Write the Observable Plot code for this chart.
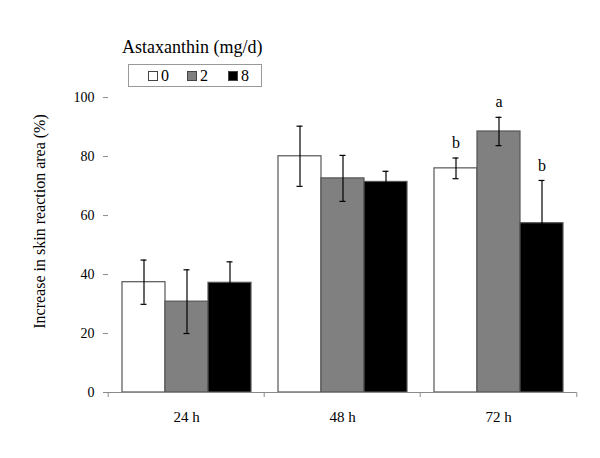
<!DOCTYPE html>
<html>
<head>
<meta charset="utf-8">
<script src="https://cdn.jsdelivr.net/npm/d3@7"></script>
<script src="https://cdn.jsdelivr.net/npm/@observablehq/plot@0.6"></script>
<style>
  html, body { margin: 0; padding: 0; background: #fff; }
  #wrap { position: relative; width: 600px; height: 458px; font-family: "Liberation Serif", "Times New Roman", serif; }
  #legtitle { position: absolute; left: 122px; top: 37px; font-size: 18px; line-height: 20px; color: #000; white-space: nowrap; }
  #legbox { position: absolute; left: 128px; top: 64px; width: 132px; height: 21px; border: 1px solid #999; background: #fff; }
  .item { position: absolute; top: 1px; font-size: 16px; line-height: 19px; white-space: nowrap; }
  .sw { display: inline-block; width: 8px; height: 8px; border: 1px solid #444; margin-right: 3px; vertical-align: 0px; }
</style>
</head>
<body>
<div id="wrap"></div>
<script>
const times = ["24 h", "48 h", "72 h"];
const doses = ["0", "2", "8"];
const doseFills = ["#ffffff", "#808080", "#000000"];
const means0 = [37.4, 80.1, 76.0];
const means2 = [30.8, 72.6, 88.5];
const means8 = [37.2, 71.4, 57.4];
const sd0 = [7.5, 10.2, 3.5];
const sd2 = [10.8, 7.8, 4.8];
const sd8 = [7.1, 3.6, 14.5];
const letters0 = ["", "", "b"];
const letters2 = ["", "", "a"];
const letters8 = ["", "", "b"];
const yTicks = [0, 20, 40, 60, 80, 100];
const yLabel = "Increase in skin reaction area (%)";
const legendTitle = "Astaxanthin (mg/d)";

const means = [means0, means2, means8];
const sds = [sd0, sd2, sd8];
const letters = [letters0, letters2, letters8];
const rows = [];
times.forEach((t, i) => doses.forEach((d, j) => rows.push({
  time: t, dose: d, mean: means[j][i], sd: sds[j][i], letter: letters[j][i],
  lo: means[j][i] - sds[j][i], hi: means[j][i] + sds[j][i]
})));

const font = "Liberation Serif, Times New Roman, serif";
const chart = Plot.plot({
  width: 600,
  height: 458,
  marginLeft: 107,
  marginRight: 23,
  marginTop: 44,
  marginBottom: 66,
  style: { fontFamily: font, fontSize: "14px", color: "#000", background: "#fff" },
  fx: { domain: times, padding: 0, axis: null, label: null },
  x: { domain: doses, paddingInner: 0, paddingOuter: 0.3, axis: null },
  y: { domain: [0, 118], axis: null },
  color: { domain: doses, range: doseFills },
  marks: [
    Plot.barY(rows, { fx: "time", x: "dose", y: "mean", fill: "dose", stroke: "#555", strokeWidth: 1.2 }),
    Plot.ruleX(rows, { fx: "time", x: "dose", y1: "lo", y2: "hi", stroke: "#000", strokeWidth: 1.2 }),
    Plot.tickY(rows, { fx: "time", x: "dose", y: "lo", stroke: "#000", strokeWidth: 1.2, insetLeft: 18.5, insetRight: 18.5 }),
    Plot.tickY(rows, { fx: "time", x: "dose", y: "hi", stroke: "#000", strokeWidth: 1.2, insetLeft: 18.5, insetRight: 18.5 }),
    Plot.text(rows.filter(d => d.letter), { fx: "time", x: "dose", y: "hi", text: "letter", dy: -15, fontSize: 16, fill: "black" }),
    Plot.ruleY([0], { stroke: "#8a8a8a", strokeWidth: 1.2 }),
    Plot.axisY({ ticks: yTicks, tickSize: 5, tickPadding: 9, stroke: "#8a8a8a", fill: "#000", fontSize: 14, label: null, line: true }),
    Plot.axisFx({ anchor: "bottom", tickSize: 0, tickPadding: 19, fontSize: 15, label: null }),
    Plot.axisFx({ anchor: "bottom", tickSize: 5, tickFormat: () => "", dx: -78.3, stroke: "#8a8a8a", label: null }),
    Plot.axisFx({ anchor: "bottom", ticks: [times[times.length - 1]], tickSize: 5, tickFormat: () => "", dx: 78.3, stroke: "#8a8a8a", label: null }),
    Plot.text([{ t: times[0], label: yLabel }], { fx: "t", frameAnchor: "left", text: "label", textAnchor: "middle", rotate: -90, dx: -69, dy: 3, fontSize: 16, fill: "#000" })
  ]
});

const wrap = document.getElementById("wrap");
wrap.appendChild(chart);

const title = document.createElement("div");
title.id = "legtitle";
title.textContent = legendTitle;
wrap.appendChild(title);

const box = document.createElement("div");
box.id = "legbox";
const itemLefts = [19, 58, 99];
doses.forEach((d, j) => {
  const it = document.createElement("div");
  it.className = "item";
  it.style.left = itemLefts[j] + "px";
  const sw = document.createElement("span");
  sw.className = "sw";
  sw.style.background = doseFills[j];
  it.appendChild(sw);
  it.appendChild(document.createTextNode(d));
  box.appendChild(it);
});
wrap.appendChild(box);
</script>
</body>
</html>
